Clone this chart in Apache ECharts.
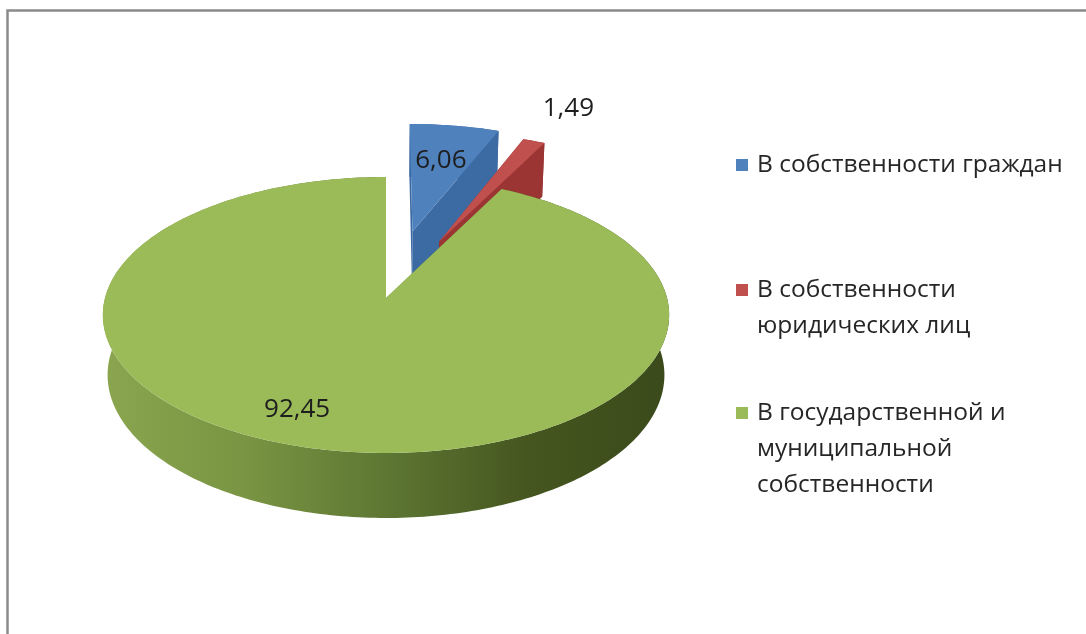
<!DOCTYPE html>
<html>
<head>
<meta charset="utf-8">
<script src="https://cdn.jsdelivr.net/npm/echarts@6/dist/echarts.min.js"></script>
<style>
  html, body { margin: 0; padding: 0; background: #ffffff; }
  #chart { width: 1086px; height: 634px; }
</style>
</head>
<body>
<div id="chart"></div>
<script>
// Structure of the housing stock by form of ownership, %
const categories = [
  'В собственности граждан',
  'В собственности юридических лиц',
  'В государственной и муниципальной собственности'
];
const values = [6.06, 1.49, 92.45];

// Look of each slice: colours, how far it is pulled out, where its label sits
const sliceStyle = [
  { top: '#4f81bd', side: '#3c6aa3', explode: 0.53, labelR: 0.65, labelTurn: 0 },
  { top: '#c0504d', side: '#9b3533', explode: 0.48, labelR: 1.38, labelTurn: 0.01 },
  { top: '#9bbb59', side: '#6f8a3a', explode: 0.00, labelR: 0.80, labelTurn: 0.13,
    wall: ['#8ba64f', '#7a9543', '#5e7733', '#45561f', '#3a4a1b'] }
];

const FONT = '"Open Sans", "Noto Sans", sans-serif';
const LABEL_SIZE = 26;
const LEGEND_SIZE = 24.5;
const LEGEND_WIDTH = 335;

// Perspective camera for the tilted pie
const CAM = { cx: 386, cy: 298, f: 1998.6, dist: 1, sinA: 0.4836, cosA: 0.8753 };
const RADIUS = 0.1406;     // disc radius in camera units
const THICK = 0.0347;      // disc thickness

function project(x, y, z) {
  const depth = CAM.dist + z * CAM.cosA - y * CAM.sinA;
  return [
    CAM.cx + CAM.f * x / depth,
    CAM.cy - CAM.f * (y * CAM.cosA + z * CAM.sinA) / depth
  ];
}

const total = values.reduce((a, b) => a + b, 0);
const startAngles = [];
values.reduce((acc, v, i) => { startAngles[i] = acc; return acc + v / total * Math.PI * 2; }, 0);

function formatValue(v) {
  return v.toFixed(2).replace('.', ',');
}

// Word wrap for the legend captions
const measureCtx = document.createElement('canvas').getContext('2d');
function wrapWords(text, font, maxWidth) {
  measureCtx.font = font;
  const lines = [];
  let line = '';
  text.split(' ').forEach(word => {
    const probe = line ? line + ' ' + word : word;
    if (line && measureCtx.measureText(probe).width > maxWidth) {
      lines.push(line);
      line = word;
    } else {
      line = probe;
    }
  });
  if (line) lines.push(line);
  return lines.join('\n');
}

function renderSlice(params, api) {
  const i = params.dataIndex;
  const v = api.value(0);
  const st = sliceStyle[i];
  const a0 = startAngles[i];
  const a1 = a0 + v / total * Math.PI * 2;
  const mid = (a0 + a1) / 2;
  const e = st.explode * RADIUS;
  const ox = e * Math.sin(mid), oz = e * Math.cos(mid);
  const P = (rho, th, y) => project(ox + rho * Math.sin(th), y, oz + rho * Math.cos(th));

  const n = Math.max(6, Math.ceil((a1 - a0) / (Math.PI / 180)));
  const topArc = [], botArc = [];
  for (let k = 0; k <= n; k++) {
    const th = a0 + (a1 - a0) * k / n;
    topArc.push(P(RADIUS, th, 0));
    botArc.push(P(RADIUS, th, -THICK));
  }
  const cTop = P(0, 0, 0), cBot = P(0, 0, -THICK);

  let wallFill = st.side;
  if (st.wall) {
    wallFill = {
      type: 'linear', x: 100, y: 0, x2: 670, y2: 0, global: true,
      colorStops: st.wall.map((c, k) => ({ offset: k / (st.wall.length - 1), color: c }))
    };
  }

  const children = [
    { type: 'polygon', shape: { points: [cTop, topArc[0], botArc[0], cBot] },
      style: { fill: st.side } },
    { type: 'polygon', shape: { points: [cTop, topArc[n], botArc[n], cBot] },
      style: { fill: st.side } },
    { type: 'polygon', shape: { points: topArc.concat(botArc.slice().reverse()) },
      style: { fill: wallFill } },
    { type: 'polygon', shape: { points: [cTop].concat(topArc) },
      style: { fill: st.top } }
  ];

  const lp = P(st.labelR * RADIUS, mid + st.labelTurn, 0);
  children.push({
    type: 'text',
    style: {
      x: lp[0], y: lp[1], text: formatValue(v),
      fill: '#1e1e1e', font: LABEL_SIZE + 'px ' + FONT,
      align: 'center', verticalAlign: 'middle'
    }
  });

  return { type: 'group', children: children };
}

// Legend entries stacked on the right, the marker aligned with the first line
const legendTops = [147, 272, 395];
const legendFont = LEGEND_SIZE + 'px ' + FONT;
const legendGraphics = categories.map((name, i) => ({
  type: 'group',
  left: 736,
  top: legendTops[i],
  children: [
    { type: 'rect', shape: { x: 0, y: 12, width: 12, height: 12 },
      style: { fill: sliceStyle[i].top } },
    { type: 'text', x: 21, y: 0,
      style: { text: wrapWords(name, legendFont, LEGEND_WIDTH), lineHeight: 36,
               fill: '#262626', font: legendFont } }
  ]
}));

const chart = echarts.init(document.getElementById('chart'), null, { renderer: 'canvas' });
chart.setOption({
  backgroundColor: '#ffffff',
  animation: false,
  graphic: [
    { type: 'rect', left: 5, top: 8, shape: { width: 1200, height: 800 },
      style: { fill: 'none', stroke: '#8a8a8a', lineWidth: 2.5 }, z: -1 }
  ].concat(legendGraphics),
  series: [{
    type: 'custom',
    coordinateSystem: 'none',
    renderItem: renderSlice,
    data: values.map((v, i) => ({ name: categories[i], value: [v] }))
  }]
});
</script>
</body>
</html>
